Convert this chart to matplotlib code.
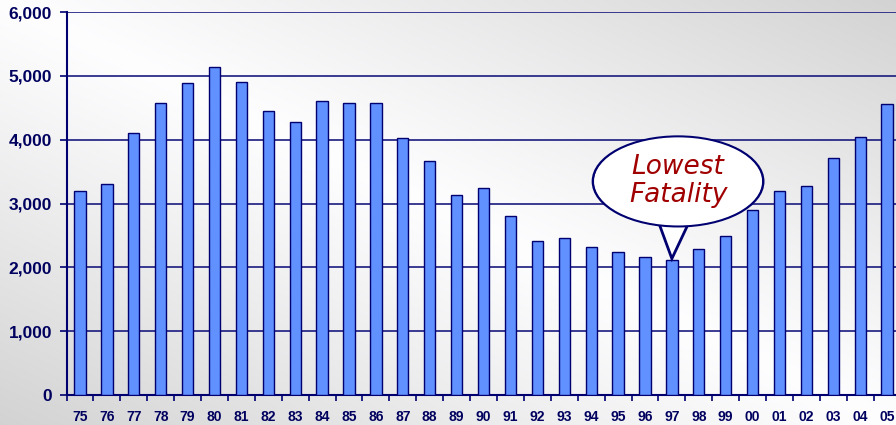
import numpy as np
import matplotlib
matplotlib.use("Agg")
import matplotlib.pyplot as plt
from matplotlib.patches import Ellipse, Polygon
from matplotlib.ticker import FuncFormatter, FixedLocator

years = ["75", "76", "77", "78", "79", "80", "81", "82", "83", "84", "85", "86",
         "87", "88", "89", "90", "91", "92", "93", "94", "95", "96", "97", "98",
         "99", "00", "01", "02", "03", "04", "05"]
fatalities = [3200, 3300, 4100, 4580, 4890, 5140, 4905, 4450, 4275, 4605, 4570, 4570,
              4030, 3665, 3138, 3245, 2805, 2412, 2460, 2320, 2238, 2168, 2116, 2295,
              2488, 2895, 3195, 3278, 3712, 4038, 4555]
callout_text = "Lowest\nFatality"
callout_year = "97"

NAVY = "#000070"
LABEL = "#00005e"

fig = plt.figure(figsize=(8.96, 4.25), dpi=100)

# background gradient
bg = fig.add_axes([0, 0, 1, 1], zorder=-10)
H, W = 425, 896
v, u = np.mgrid[0:H, 0:W]
uu = u / W
vv = 1 - v / H
val = 1 - 0.17 * np.abs(uu + vv - 1.0) ** 1.1
img = np.dstack([val * 0.995, val * 0.995, val])
bg.imshow(img, aspect="auto", extent=[0, 1, 0, 1], origin="upper")
bg.axis("off")

left = 66.5 / W
bottom = 30 / H
height = 383 / H
ax = fig.add_axes([left, bottom, 1 - left, height])
ax.patch.set_alpha(0)

x = np.arange(len(years))
ax.bar(x, fatalities, width=0.42, color="#6190ff", edgecolor=NAVY, linewidth=1.0, zorder=3)

ax.set_ylim(0, 6000)
ax.set_xlim(-0.5, 30.33)
ax.set_yticks(np.arange(0, 6001, 1000))
ax.yaxis.set_major_formatter(FuncFormatter(lambda val, p: f"{int(val):,}"))
ax.grid(axis="y", color="#1a1a80", linewidth=1.2, zorder=1)
ax.set_axisbelow(True)

ax.xaxis.set_major_locator(FixedLocator(np.arange(-0.5, len(years) + 0.5, 1)))
ax.xaxis.set_minor_locator(FixedLocator(x))
ax.set_xticklabels([], minor=False)
ax.set_xticklabels(years, minor=True)
ax.tick_params(axis="x", which="major", length=4, width=1.2, color=NAVY, direction="out")
ax.tick_params(axis="x", which="minor", length=0, pad=11)
ax.tick_params(axis="y", length=5, width=1.2, color=NAVY, pad=5.5)

for lab in ax.get_xticklabels(minor=True):
    lab.set_fontfamily("Liberation Sans")
    lab.set_fontweight("bold")
    lab.set_fontsize(10)
    lab.set_color(LABEL)
for lab in ax.get_yticklabels():
    lab.set_fontfamily("Liberation Sans")
    lab.set_fontweight("bold")
    lab.set_fontsize(12.5)
    lab.set_color(LABEL)

for s in ["top", "right"]:
    ax.spines[s].set_visible(False)
for s in ["left", "bottom"]:
    ax.spines[s].set_color(NAVY)
    ax.spines[s].set_linewidth(1.5)

# callout
i97 = years.index(callout_year)
tip_x, tip_y = x[i97], fatalities[i97]
ecx, ecy = tip_x + 0.23, tip_y + 1230
ew, eh = 6.32, 1400
tail = Polygon([[tip_x - 0.52, ecy - 0.9 * eh / 2 * 0.97],
                [tip_x + 0.0, tip_y + 20],
                [tip_x + 0.67, ecy - 0.9 * eh / 2 * 0.97]],
               closed=True, facecolor="white", edgecolor=NAVY, linewidth=2, zorder=5)
ell = Ellipse((ecx, ecy), ew, eh, facecolor="white", edgecolor=NAVY, linewidth=2, zorder=5)
ax.add_patch(tail)
ax.add_patch(ell)
ell2 = Ellipse((ecx, ecy), ew - 0.08, eh - 20, facecolor="white", edgecolor="none", zorder=6)
ax.add_patch(ell2)
ax.text(ecx, ecy + 10, callout_text, ha="center", va="center", fontsize=19,
        fontstyle="italic", family="DejaVu Sans", color="#a00000", linespacing=1.12, zorder=7)

fig.savefig("out.png", dpi=100)
